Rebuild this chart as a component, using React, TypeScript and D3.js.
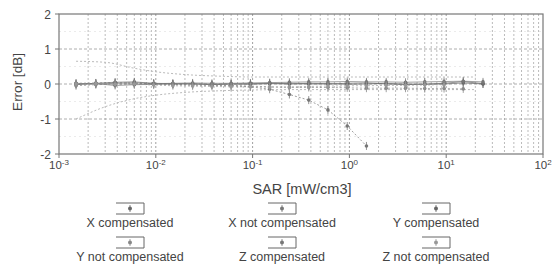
import * as d3 from "d3";
import { useEffect, useRef } from "react";

// SAR values (mW/cm3) where the error was measured
const sar = [0.0015, 0.0024, 0.0038, 0.006, 0.0095, 0.015, 0.024, 0.038, 0.06, 0.095, 0.15, 0.24, 0.38, 0.6, 0.95, 1.5, 2.4, 3.8, 6, 9.5, 15, 24];

// error in dB per series (null = not measured)
const xComp = [-0.02, 0.02, 0.05, 0.06, 0.02, 0.01, 0.0, -0.01, 0.0, 0.01, 0.02, 0.01, 0.0, 0.0, 0.02, 0.03, 0.0, -0.02, 0.0, 0.02, 0.07, 0.01];
const xNotComp = [0.02, 0.03, 0.04, 0.03, 0.01, -0.01, -0.03, -0.04, -0.05, -0.08, -0.15, -0.3, -0.46, -0.74, -1.2, -1.77, null, null, null, null, null, null];
const yComp = [0.0, 0.01, -0.04, -0.02, -0.01, 0.0, 0.01, -0.02, 0.0, -0.01, 0.01, 0.0, 0.02, 0.01, -0.01, 0.0, 0.02, 0.0, -0.01, 0.0, 0.03, 0.0];
const yNotComp = [-0.05, -0.02, 0.0, 0.01, 0.0, -0.02, -0.03, -0.02, -0.04, -0.06, -0.08, -0.1, -0.1, -0.1, -0.11, -0.12, -0.12, -0.12, -0.13, -0.13, -0.14, null];
const zComp = [0.02, 0.0, 0.02, 0.03, 0.01, 0.02, 0.03, 0.02, 0.02, 0.03, 0.04, 0.05, 0.06, 0.06, 0.07, 0.06, 0.06, 0.05, 0.06, 0.07, 0.08, 0.06];
const zNotComp = [0.0, 0.01, -0.01, 0.0, -0.03, -0.05, -0.06, -0.07, -0.08, -0.08, -0.09, -0.08, -0.07, -0.06, -0.05, -0.05, -0.04, -0.04, -0.03, -0.02, null, null];

// uncertainty envelope
const envX = [0.0015, 0.003, 0.006, 0.01, 0.02, 0.05, 0.1, 0.3, 1, 3, 10, 20];
const envUpper = [0.65, 0.62, 0.45, 0.35, 0.27, 0.22, 0.2, 0.2, 0.2, 0.2, 0.2, 0.2];
const envLower = [-1.0, -0.65, -0.42, -0.32, -0.24, -0.19, -0.17, -0.16, -0.16, -0.16, -0.16, -0.16];

const seriesNames = ["X compensated", "X not compensated", "Y compensated", "Y not compensated", "Z compensated", "Z not compensated"];
const seriesValues = [xComp, xNotComp, yComp, yNotComp, zComp, zNotComp];
const seriesColors = ["#666", "#777", "#666", "#888", "#777", "#999"];

const yTicks = [-2, -1, 0, 1, 2];
const xExponents = [-3, -2, -1, 0, 1, 2];

const font = "Liberation Sans, Arial, sans-serif";

export default function App() {
  const ref = useRef<SVGSVGElement>(null);

  useEffect(() => {
    const svg = d3.select(ref.current);
    svg.selectAll("*").remove();

    const x = d3.scaleLog().domain([1e-3, 1e2]).range([59, 543]);
    const y = d3.scaleLinear().domain([-2, 2]).range([154, 14]);

    svg.append("rect").attr("width", 556).attr("height", 271).attr("fill", "#fff");

    // vertical log grid
    const gridX: number[] = [];
    for (let e = -3; e < 2; e++) for (let m = 1; m <= 9; m++) gridX.push(m * Math.pow(10, e));
    svg.append("g").selectAll("line").data(gridX.slice(1)).enter().append("line")
      .attr("x1", d => x(d)).attr("x2", d => x(d))
      .attr("y1", y(2)).attr("y2", y(-2))
      .attr("stroke", (d, i) => (i % 9 === 8 ? "#888" : "#aaa"))
      .attr("stroke-width", 0.8)
      .attr("stroke-dasharray", "2,2");

    // horizontal grid
    svg.append("g").selectAll("line").data([-1, 0, 1]).enter().append("line")
      .attr("x1", x(1e-3)).attr("x2", x(1e2))
      .attr("y1", d => y(d)).attr("y2", d => y(d))
      .attr("stroke", "#999").attr("stroke-width", 0.8).attr("stroke-dasharray", "3,2");
    svg.append("g").selectAll("line").data([-1.5, -0.5, 0.5, 1.5]).enter().append("line")
      .attr("x1", x(1e-3)).attr("x2", x(1e2))
      .attr("y1", d => y(d)).attr("y2", d => y(d))
      .attr("stroke", "#ddd").attr("stroke-width", 0.6).attr("stroke-dasharray", "2,3");

    // envelope
    const env = d3.line<number>().x((d, i) => x(envX[i])).y(d => y(d)).curve(d3.curveMonotoneX);
    [envUpper, envLower].forEach(arr => {
      svg.append("path").attr("d", env(arr)).attr("fill", "none")
        .attr("stroke", "#bbb").attr("stroke-width", 1).attr("stroke-dasharray", "2,2");
    });

    // series
    seriesValues.forEach((vals, s) => {
      const pts = vals.map((v, i) => ({ x: sar[i], v })).filter(p => p.v !== null) as { x: number; v: number }[];
      const line = d3.line<{ x: number; v: number }>().x(d => x(d.x)).y(d => y(d.v));
      svg.append("path").attr("d", line(pts)).attr("fill", "none")
        .attr("stroke", seriesColors[s]).attr("stroke-width", 0.7)
        .attr("stroke-dasharray", s % 2 === 1 ? "2,2" : null);
      const g = svg.append("g");
      g.selectAll("line").data(pts).enter().append("line")
        .attr("x1", d => x(d.x)).attr("x2", d => x(d.x))
        .attr("y1", d => y(d.v) - 4).attr("y2", d => y(d.v) + 4)
        .attr("stroke", seriesColors[s]).attr("stroke-width", 0.8);
      g.selectAll("circle").data(pts).enter().append("circle")
        .attr("cx", d => x(d.x)).attr("cy", d => y(d.v)).attr("r", 1.8)
        .attr("fill", seriesColors[s]);
    });

    // frame
    svg.append("rect").attr("x", x(1e-3)).attr("y", y(2))
      .attr("width", x(1e2) - x(1e-3)).attr("height", y(-2) - y(2))
      .attr("fill", "none").attr("stroke", "#777").attr("stroke-width", 1.2);

    // y ticks and labels
    svg.append("g").selectAll("line").data(yTicks).enter().append("line")
      .attr("x1", x(1e-3) - 4).attr("x2", x(1e-3))
      .attr("y1", d => y(d)).attr("y2", d => y(d)).attr("stroke", "#777");
    svg.append("g").selectAll("text").data(yTicks).enter().append("text")
      .attr("x", x(1e-3) - 8).attr("y", d => y(d) + 4.5)
      .attr("text-anchor", "end").attr("font-size", 12).attr("fill", "#444")
      .attr("font-family", font)
      .text(d => (d < 0 ? "-" + Math.abs(d) : String(d)));

    // x ticks and labels
    svg.append("g").selectAll("line").data(xExponents).enter().append("line")
      .attr("x1", d => x(Math.pow(10, d))).attr("x2", d => x(Math.pow(10, d)))
      .attr("y1", y(-2)).attr("y2", y(-2) + 4).attr("stroke", "#777");
    const xl = svg.append("g").selectAll("text").data(xExponents).enter().append("text")
      .attr("x", d => x(Math.pow(10, d))).attr("y", y(-2) + 15)
      .attr("text-anchor", "middle").attr("font-size", 11.5).attr("fill", "#444")
      .attr("font-family", font);
    xl.append("tspan").text("10");
    xl.append("tspan").attr("dy", -4.5).attr("font-size", 8).text(d => String(d));

    // axis titles
    svg.append("text").attr("transform", `translate(22,${y(0) - 2}) rotate(-90)`)
      .attr("text-anchor", "middle").attr("font-size", 13.5).attr("fill", "#444")
      .attr("font-family", font).text("Error [dB]");
    svg.append("text").attr("x", 302).attr("y", 194)
      .attr("text-anchor", "middle").attr("font-size", 14.5).attr("fill", "#444")
      .attr("font-family", font).text("SAR [mW/cm3]");

    // legend
    const colX = [130, 282, 436];
    const rowY = [203, 237];
    seriesNames.forEach((name, s) => {
      const cx = colX[s % 3];
      const ry = rowY[Math.floor(s / 3)];
      const g = svg.append("g");
      g.append("path")
        .attr("d", `M${cx - 14},${ry} H${cx + 14} V${ry + 11} H${cx - 14}`)
        .attr("fill", "none").attr("stroke", "#666").attr("stroke-width", 1);
      g.append("line").attr("x1", cx).attr("x2", cx).attr("y1", ry + 2).attr("y2", ry + 9)
        .attr("stroke", seriesColors[s]).attr("stroke-width", 0.8);
      g.append("circle").attr("cx", cx).attr("cy", ry + 5.5).attr("r", 2).attr("fill", seriesColors[s]);
      g.append("text").attr("x", cx).attr("y", ry + 24)
        .attr("text-anchor", "middle").attr("font-size", 12.5).attr("fill", "#444")
        .attr("font-family", font).text(name);
    });
  }, []);

  return (
    <svg ref={ref} width={556} height={271}
      style={{ position: "absolute", left: 0, top: 0, display: "block" }} />
  );
}
